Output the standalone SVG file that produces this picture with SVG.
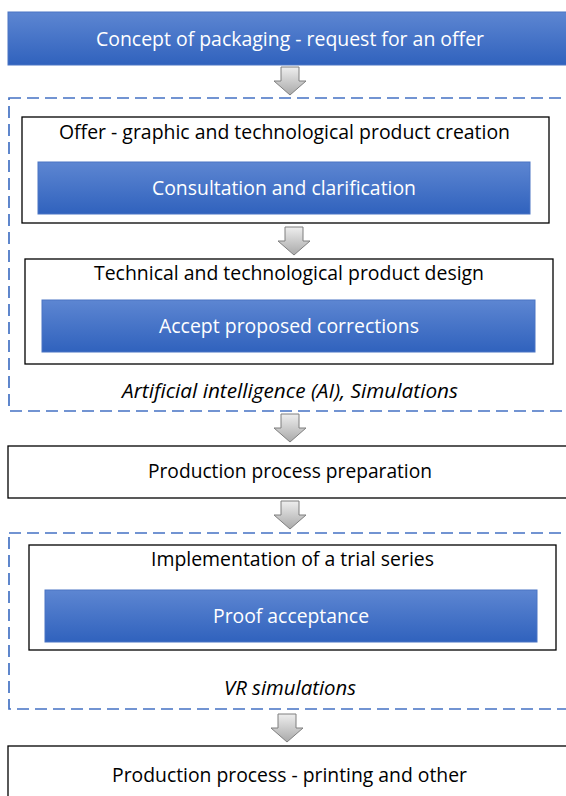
<svg xmlns="http://www.w3.org/2000/svg" width="566" height="796" viewBox="0 0 566 796">
<defs>
<linearGradient id="blue" x1="0" y1="0" x2="0" y2="1">
<stop offset="0" stop-color="#5d86d2"/>
<stop offset="1" stop-color="#3062bd"/>
</linearGradient>
<linearGradient id="gray" x1="0" y1="0" x2="0" y2="1">
<stop offset="0" stop-color="#eeeeee"/>
<stop offset="1" stop-color="#a9a9a9"/>
</linearGradient>
<path id="arr" d="M-9,0 H9 V14 H16 L0,28 L-16,14 H-9 Z"/>
</defs>
<style>
text{font-family:"Open Sans","Liberation Sans",sans-serif;font-size:19.5px;text-anchor:middle}
.w{fill:#ffffff}
.k{fill:#000000}
.i{font-style:italic}
.bl{fill:url(#blue);stroke:#4a74c4;stroke-width:1}
.bx{fill:#ffffff;stroke:#000000;stroke-width:1.3}
.ds{fill:none;stroke:#4472c4;stroke-width:1.7;stroke-dasharray:12,6}
.ar{fill:url(#gray);stroke:#7f7f7f;stroke-width:1}
</style>
<rect width="566" height="796" fill="#ffffff"/>
<g id="containers">
<rect class="ds" x="9" y="98" width="570" height="313"/>
<rect class="ds" x="9" y="533" width="570" height="176"/>
</g>
<g id="connectors">
<use href="#arr" class="ar" x="290" y="67"/>
<use href="#arr" class="ar" x="294" y="227"/>
<use href="#arr" class="ar" x="290" y="414"/>
<use href="#arr" class="ar" x="290" y="501"/>
<use href="#arr" class="ar" x="287" y="714"/>
</g>
<g id="n1">
<rect class="bl" x="8" y="12" width="570" height="53"/>
<text class="w" x="290" y="46" textLength="388" lengthAdjust="spacingAndGlyphs">Concept of packaging - request for an offer</text>
</g>
<g id="n2">
<rect class="bx" x="22" y="117" width="527" height="106"/>
<text class="k" x="284.5" y="139" textLength="451" lengthAdjust="spacingAndGlyphs">Offer - graphic and technological product creation</text>
</g>
<g id="n3">
<rect class="bl" x="38" y="162" width="492" height="52"/>
<text class="w" x="284" y="195" textLength="264" lengthAdjust="spacingAndGlyphs">Consultation and clarification</text>
</g>
<g id="n4">
<rect class="bx" x="25" y="259" width="528" height="105"/>
<text class="k" x="289" y="280" textLength="390" lengthAdjust="spacingAndGlyphs">Technical and technological product design</text>
</g>
<g id="n5">
<rect class="bl" x="42" y="300" width="493" height="52"/>
<text class="w" x="289" y="333" textLength="260" lengthAdjust="spacingAndGlyphs">Accept proposed corrections</text>
</g>
<g id="l1">
<text class="k i" x="290" y="398" textLength="336" lengthAdjust="spacingAndGlyphs">Artificial intelligence (AI), Simulations</text>
</g>
<g id="n6">
<rect class="bx" x="8" y="446" width="570" height="52"/>
<text class="k" x="290" y="478" textLength="284" lengthAdjust="spacingAndGlyphs">Production process preparation</text>
</g>
<g id="n7">
<rect class="bx" x="29" y="545" width="527" height="105"/>
<text class="k" x="292.5" y="566" textLength="283" lengthAdjust="spacingAndGlyphs">Implementation of a trial series</text>
</g>
<g id="n8">
<rect class="bl" x="45" y="590" width="492" height="52"/>
<text class="w" x="291" y="623" textLength="156" lengthAdjust="spacingAndGlyphs">Proof acceptance</text>
</g>
<g id="l2">
<text class="k i" x="290" y="695" textLength="132" lengthAdjust="spacingAndGlyphs">VR simulations</text>
</g>
<g id="n9">
<rect class="bx" x="8" y="746" width="570" height="60"/>
<text class="k" x="289.5" y="782" textLength="355" lengthAdjust="spacingAndGlyphs">Production process - printing and other</text>
</g>
</svg>
